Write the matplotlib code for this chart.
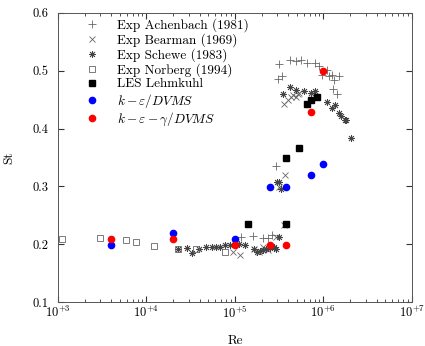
import matplotlib
matplotlib.use("Agg")
import matplotlib.pyplot as plt
import numpy as np

plt.rcParams['font.family'] = ['cmr10']
plt.rcParams['mathtext.fontset'] = 'cm'
plt.rcParams['axes.formatter.use_mathtext'] = True
plt.rcParams['axes.unicode_minus'] = False

# ---- data (log10 Re, St) ----
ach_logre = [5.07, 5.20, 5.32, 5.37, 5.42, 5.47, 5.49, 5.50, 5.53, 5.62, 5.69, 5.75,
             5.81, 5.91, 5.95, 5.98, 6.04, 6.06, 6.10, 6.12, 6.11, 6.15, 6.18]
ach_st = [0.213, 0.214, 0.210, 0.210, 0.216, 0.335, 0.486, 0.511, 0.490, 0.518, 0.517, 0.519,
          0.514, 0.514, 0.508, 0.492, 0.501, 0.491, 0.493, 0.484, 0.469, 0.460, 0.490]

bear_logre = [4.98, 5.06, 5.22, 5.27, 5.32, 5.37, 5.47, 5.50, 5.56, 5.57,
              5.56, 5.60, 5.63, 5.66, 5.69, 5.71, 5.73]
bear_st = [0.187, 0.182, 0.192, 0.186, 0.195, 0.190, 0.212, 0.299, 0.233, 0.319,
           0.442, 0.449, 0.455, 0.458, 0.455, 0.460, 0.462]

sch_logre = [4.36, 4.46, 4.51, 4.59, 4.67, 4.74, 4.79, 4.83, 4.89, 4.94, 5.00, 5.05, 5.11,
             5.22, 5.25, 5.28, 5.32, 5.35, 5.40, 5.44, 5.47, 5.50,
             5.48, 5.50, 5.52,
             5.54, 5.62, 5.69, 5.78, 5.86, 5.90, 6.04, 6.10, 6.13, 6.18, 6.20, 6.24, 6.26, 6.31]
sch_st = [0.192, 0.194, 0.185, 0.192, 0.195, 0.195, 0.196, 0.195, 0.198, 0.199, 0.201, 0.200, 0.199,
          0.191, 0.186, 0.189, 0.190, 0.192, 0.193, 0.196, 0.192, 0.212,
          0.308, 0.308, 0.295,
          0.459, 0.472, 0.466, 0.465, 0.462, 0.465, 0.446, 0.436, 0.440, 0.426, 0.421, 0.415, 0.414, 0.384]

nor_logre = [3.04, 3.47, 3.77, 3.88, 4.08, 4.36, 4.56, 4.89]
nor_st = [0.209, 0.211, 0.207, 0.203, 0.197, 0.192, 0.191, 0.186]

les_re = [1.4e5, 3.8e5, 3.8e5, 5.3e5, 6.5e5, 7.2e5, 8.5e5]
les_st = [0.2355, 0.2355, 0.349, 0.367, 0.4415, 0.450, 0.455]

sim_re = [4e3, 2e4, 1e5, 2.5e5, 3.8e5, 7.2e5, 1e6]
ke_st = [0.199, 0.219, 0.209, 0.299, 0.299, 0.319, 0.339]
keg_st = [0.209, 0.209, 0.199, 0.199, 0.199, 0.429, 0.500]

xticks = [1e3, 1e4, 1e5, 1e6, 1e7]
xticklabels = [r'$10^{+3}$', r'$10^{+4}$', r'$10^{+5}$', r'$10^{+6}$', r'$10^{+7}$']
yticks = [0.1, 0.2, 0.3, 0.4, 0.5, 0.6]
yticklabels = ['0.1', '0.2', '0.3', '0.4', '0.5', '0.6']

gray = '#666666'
fs = 9
lfs = 9.5

fig = plt.figure(figsize=(4.25, 3.46), dpi=100)
ax = fig.add_axes([0.1365, 0.127, 0.8325, 0.836])

ax.plot(10 ** np.array(ach_logre), ach_st, ls='none', marker='+', ms=6, mew=0.6, color=gray,
        label='Exp Achenbach (1981)')
ax.plot(10 ** np.array(bear_logre), bear_st, ls='none', marker='x', ms=5, mew=0.6, color=gray,
        label='Exp Bearman (1969)')
ax.plot(10 ** np.array(sch_logre), sch_st, ls='none', marker=(8, 2, 0), ms=5, mew=0.6, color='#444444',
        label='Exp Schewe (1983)')
ax.plot(10 ** np.array(nor_logre), nor_st, ls='none', marker='s', ms=5, mew=0.6, mfc='none', mec=gray,
        label='Exp Norberg (1994)')
ax.plot(les_re, les_st, ls='none', marker='s', ms=5, color='black', label='LES Lehmkuhl')
ax.plot(sim_re, ke_st, ls='none', marker='o', ms=4.5, color='#0000ff', label=r'$k-\varepsilon/DVMS$')
ax.plot(sim_re, keg_st, ls='none', marker='o', ms=4.5, color='#ff0000', label=r'$k-\varepsilon-\gamma/DVMS$')

ax.set_xscale('log')
ax.set_xlim(1e3, 1e7)
ax.set_ylim(0.1, 0.6)
ax.set_xticks(xticks)
ax.set_xticklabels(xticklabels)
ax.set_yticks(yticks)
ax.set_yticklabels(yticklabels)
ax.tick_params(which='both', direction='in', top=True, right=True, labelsize=fs, colors='#333333',
               labelcolor='black')
ax.tick_params(which='major', length=4)
ax.tick_params(axis='y', which='major', pad=7)
ax.tick_params(axis='x', which='major', pad=2)
ax.tick_params(which='minor', length=2)
ax.yaxis.set_minor_locator(matplotlib.ticker.NullLocator())
for s in ax.spines.values():
    s.set_color('#555555')
    s.set_linewidth(0.7)

ax.set_xlabel('Re', fontsize=lfs, labelpad=10)
ax.set_ylabel('St', fontsize=lfs, labelpad=12)

ax.legend(loc='upper left', frameon=False, fontsize=lfs, handlelength=1.0, handletextpad=1.4,
          borderaxespad=0.0, borderpad=0.0, labelspacing=0.09, bbox_to_anchor=(0.078, 0.981))

fig.savefig('out.png', dpi=100)
